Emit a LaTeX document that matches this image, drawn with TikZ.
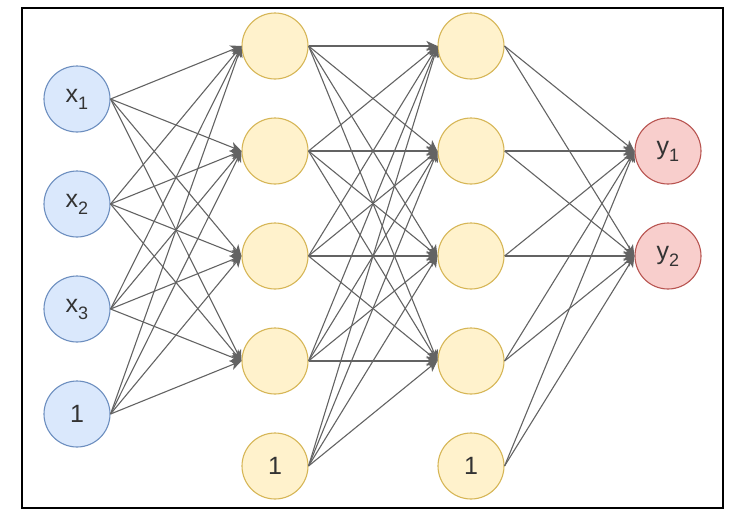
\documentclass[tikz,border=0pt]{standalone}
\usepackage{fontspec}
\setmainfont{Liberation Sans}
\usetikzlibrary{arrows.meta}
\definecolor{bfill}{HTML}{DAE8FC}\definecolor{bline}{HTML}{6C8EBF}
\definecolor{yfill}{HTML}{FFF2CC}\definecolor{yline}{HTML}{D6B656}
\definecolor{rfill}{HTML}{F8CECC}\definecolor{rline}{HTML}{B85450}
\definecolor{edge}{HTML}{636363}\definecolor{txt}{HTML}{333333}
\newcommand{\lab}[2]{#1\raisebox{-7pt}{\fontsize{18}{18}\selectfont #2}}
\begin{document}
\begin{tikzpicture}[x=1pt,y=-1pt,
  neuron/.style={circle,minimum size=66pt,inner sep=0pt,line width=1.1pt,font=\fontsize{25}{25}\selectfont,text=txt},
  inp/.style={neuron,draw=bline,fill=bfill},
  hid/.style={neuron,draw=yline,fill=yfill},
  outp/.style={neuron,draw=rline,fill=rfill},
  conn/.style={draw=edge,line width=1.1pt,-{Stealth[length=11pt,width=10pt,inset=3pt]}}]
\useasboundingbox (0,0) rectangle (745,520);
\draw[line width=2.5pt] (22,8) rectangle (723,508);
\node[inp] (i1) at (77,99) {\lab{x}{1}};
\node[inp] (i2) at (77,204) {\lab{x}{2}};
\node[inp] (i3) at (77,309) {\lab{x}{3}};
\node[inp] (i4) at (77,414) {1};
\foreach \k/\y in {1/46,2/151,3/256,4/361}{
  \node[hid] (h\k) at (275,\y) {};
  \node[hid] (g\k) at (471,\y) {};
}
\node[hid] (h5) at (275,466) {1};
\node[hid] (g5) at (471,466) {1};
\node[outp] (o1) at (668,151) {\lab{y}{1}};
\node[outp] (o2) at (668,256) {\lab{y}{2}};
\foreach \a in {1,...,4}{\foreach \b in {1,...,4}{\draw[conn] (i\a.east) -- (h\b.west);}}
\foreach \a in {1,...,5}{\foreach \b in {1,...,4}{\draw[conn] (h\a.east) -- (g\b.west);}}
\foreach \a in {1,...,5}{\foreach \b in {1,2}{\draw[conn] (g\a.east) -- (o\b.west);}}
\end{tikzpicture}
\end{document}
